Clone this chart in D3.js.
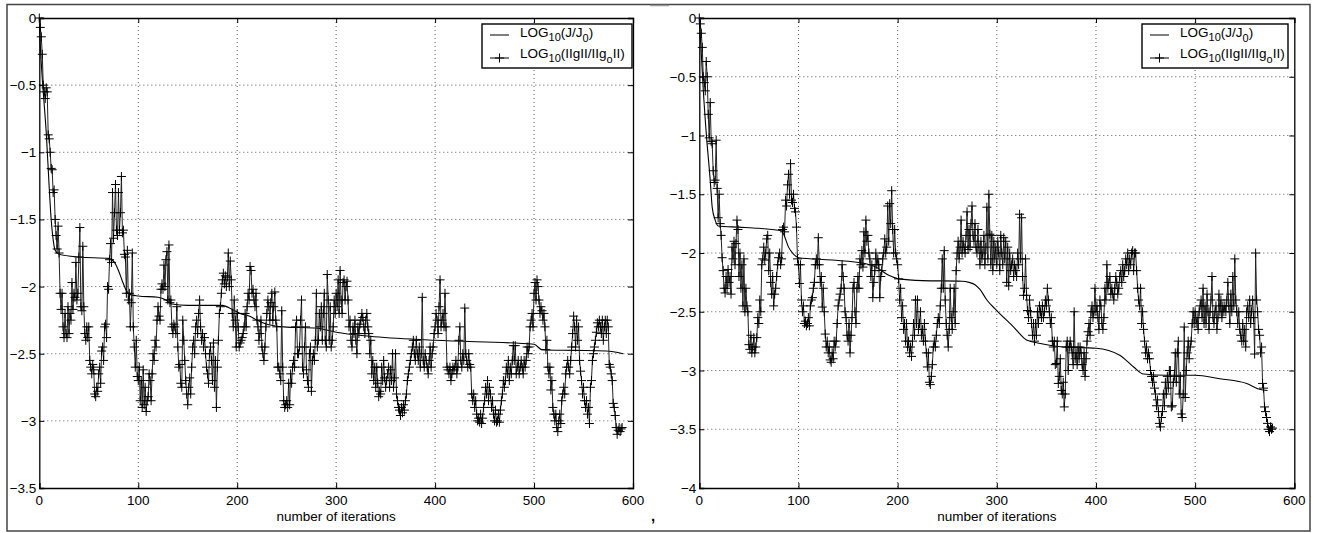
<!DOCTYPE html>
<html>
<head>
<meta charset="utf-8">
<script src="https://cdn.jsdelivr.net/npm/d3@7"></script>
<style>
  body { margin: 0; background: #fff; }
  svg { display: block; font-family: "Liberation Sans", Arial, sans-serif; }
</style>
</head>
<body>
<div id="viz"></div>
<script>
let w = 1319;
let h = 533;

// ---- data ----
// left run: log10(||g||/||g0||), one value per iteration from 0
let gradLeft = [
  0, -0.07, -0.14, -0.27, -0.5, -0.55, -0.6, -0.52, -0.55, -0.87,
  -0.9, -1.0, -1.12, -1.13, -1.3, -1.28, -1.5, -1.62, -1.72, -1.55,
  -1.75, -2.05, -2.17, -2.05, -2.3, -2.38, -2.2, -2.35, -2.38, -2.15,
  -2.35, -2.2, -2.25, -1.97, -2.17, -2.05, -2.08, -1.82, -2.1, -2.05,
  -1.78, -1.56, -2.15, -2.18, -1.7, -2.15, -2.35, -2.4, -2.3, -2.38,
  -2.3, -2.55, -2.6, -2.65, -2.58, -2.62, -2.8, -2.82, -2.75, -2.78,
  -2.65, -2.6, -2.72, -2.48, -2.45, -2.55, -2.3, -2.28, -2.38, -2.0,
  -2.02, -1.8, -1.68, -1.82, -1.3, -1.64, -1.45, -1.24, -1.58, -1.62,
  -1.3, -1.58, -1.45, -1.18, -1.6, -1.58, -1.76, -1.78, -2.05, -1.73,
  -2.1, -2.05, -2.3, -2.12, -1.75, -2.3, -2.45, -2.6, -2.4, -2.67,
  -2.7, -2.6, -2.85, -2.7, -2.9, -2.62, -2.88, -2.75, -2.93, -2.85,
  -2.82, -2.65, -2.7, -2.85, -2.65, -2.5, -2.55, -2.4, -2.45, -2.25,
  -2.15, -2.22, -2.25, -2.02, -1.98, -2.02, -1.84, -2.0, -1.8, -1.74,
  -2.1, -1.69, -2.12, -2.1, -2.3, -2.35, -2.28, -2.3, -2.35, -2.15,
  -2.45, -2.6, -2.58, -2.72, -2.75, -2.25, -2.4, -2.55, -2.7, -2.8,
  -2.88, -2.75, -2.68, -2.8, -2.6, -2.45, -2.4, -2.5, -2.3, -2.25,
  -2.35, -2.2, -2.1, -2.3, -2.4, -2.35, -2.45, -2.38, -2.5, -2.6,
  -2.65, -2.72, -2.5, -2.45, -2.55, -2.7, -2.42, -2.75, -2.55, -2.9,
  -2.6, -2.4, -2.2, -2.15, -2.05, -1.95, -1.9, -1.98, -1.92, -2.0,
  -1.93, -1.75, -2.0, -1.81, -1.95, -2.2, -2.3, -2.1, -2.25, -2.45,
  -2.2, -2.3, -2.45, -2.42, -2.4, -2.38, -2.35, -2.3, -2.2, -2.3,
  -2.15, -2.05, -2.1, -1.85, -1.88, -2.05, -2.02, -2.1, -2.15, -2.05,
  -2.25, -2.3, -2.4, -2.35, -2.25, -2.45, -2.5, -2.55, -2.45, -2.3,
  -2.2, -2.1, -2.15, -2.25, -2.12, -2.05, -2.25, -2.15, -2.04, -2.25,
  -2.3, -2.6, -2.6, -2.65, -2.7, -2.18, -2.6, -2.85, -2.9, -2.88,
  -2.85, -2.9, -2.72, -2.88, -2.65, -2.72, -2.6, -2.55, -2.6, -2.3,
  -2.25, -2.5, -2.5, -2.45, -2.25, -2.1, -2.6, -2.65, -2.45, -2.3,
  -2.62, -2.7, -2.75, -2.5, -2.45, -2.78, -2.55, -2.5, -2.55, -2.4,
  -2.05, -2.45, -2.4, -2.2, -2.3, -2.15, -2.4, -2.2, -2.05, -2.4,
  -2.45, -1.91, -2.1, -2.4, -2.15, -2.45, -2.4, -2.3, -2.1, -2.2,
  -2.05, -2.15, -1.95, -2.2, -1.88, -2.1, -2.2, -1.97, -1.95, -2.1,
  -2.0, -1.96, -2.1, -2.3, -2.25, -2.4, -2.45, -2.3, -2.35, -2.25,
  -2.4, -2.5, -2.3, -2.35, -2.28, -2.25, -2.2, -2.23, -2.3, -2.35,
  -2.25, -2.2, -2.3, -2.35, -2.5, -2.4, -2.65, -2.55, -2.7, -2.6,
  -2.75, -2.6, -2.72, -2.82, -2.78, -2.8, -2.6, -2.7, -2.55, -2.68,
  -2.75, -2.7, -2.65, -2.6, -2.75, -2.62, -2.7, -2.5, -2.75, -2.68,
  -2.5, -2.8, -2.85, -2.9, -2.92, -2.96, -2.9, -2.94, -2.88, -2.92,
  -2.85, -2.8, -2.7, -2.65, -2.6, -2.55, -2.5, -2.45, -2.4, -2.5,
  -2.55, -2.4, -2.5, -2.55, -2.45, -2.6, -2.5, -2.08, -2.55, -2.6,
  -2.5, -2.55, -2.6, -2.65, -2.55, -2.45, -2.6, -2.5, -2.45, -2.35,
  -2.3, -2.2, -2.25, -2.35, -2.15, -1.95, -2.3, -2.25, -2.2, -2.3,
  -2.05, -2.3, -2.6, -2.62, -2.65, -2.6, -2.7, -2.65, -2.6, -2.62,
  -2.6, -2.55, -2.65, -2.6, -2.4, -2.3, -2.55, -2.6, -2.5, -2.55,
  -2.16, -2.5, -2.55, -2.6, -2.5, -2.58, -2.6, -2.8, -2.85, -2.8,
  -2.9, -2.85, -2.95, -3.0, -2.98, -3.01, -2.95, -3.02, -2.98, -2.9,
  -2.85, -2.75, -2.8, -2.7, -2.85, -2.75, -2.8, -2.9, -2.85, -2.95,
  -3.0, -2.92, -3.01, -3.0, -2.95, -3.01, -2.92, -2.85, -2.8, -2.7,
  -2.75, -2.7, -2.6, -2.65, -2.55, -2.7, -2.6, -2.65, -2.55, -2.44,
  -2.55, -2.44, -2.65, -2.6, -2.55, -2.65, -2.6, -2.55, -2.6, -2.65,
  -2.55, -2.6, -2.55, -2.45, -2.5, -2.45, -2.3, -2.25, -2.2, -2.3,
  -2.05, -1.97, -2.1, -1.95, -2.0, -2.1, -2.2, -2.15, -2.18, -2.25,
  -2.2, -2.3, -2.47, -2.4, -2.6, -2.65, -2.6, -2.77, -2.7, -2.9,
  -2.95, -3.0, -2.95, -3.05, -3.08, -3.0, -2.95, -3.02, -2.85, -2.8,
  -2.75, -2.8, -2.65, -2.6, -2.55, -2.6, -2.65, -2.55, -2.45, -2.35,
  -2.22, -2.3, -2.45, -2.25, -2.4, -2.3, -2.55, -2.63, -2.7, -2.8,
  -2.75, -2.85, -2.9, -2.85, -2.95, -2.9, -3.02, -2.75, -2.7, -2.55,
  -2.5, -2.45, -2.4, -2.34, -2.27, -2.3, -2.25, -2.3, -2.35, -2.25,
  -2.4, -2.3, -2.25, -2.35, -2.25, -2.3, -2.58, -2.6, -2.65, -2.7,
  -2.87, -2.9, -2.96, -3.05, -3.1, -3.07, -3.05, -3.08, -3.06, -3.05
];

// left run: log10(J/J0), read at these iterations
let costLeftIter = [0, 1, 3, 5, 7, 10, 12, 14, 16, 20, 40, 70, 76, 80, 84, 88, 92, 100, 120, 128, 134, 150, 185, 195, 203, 212, 220, 230, 247, 281, 300, 334, 400, 500, 508, 540, 573, 590];
let costLeft = [0, -0.2, -0.45, -0.65, -0.85, -1.26, -1.5, -1.65, -1.73, -1.76, -1.78, -1.79, -1.82, -1.88, -1.96, -2.03, -2.06, -2.07, -2.08, -2.1, -2.13, -2.14, -2.14, -2.17, -2.2, -2.22, -2.25, -2.28, -2.3, -2.31, -2.34, -2.37, -2.4, -2.43, -2.47, -2.475, -2.48, -2.5];

// right run: log10(||g||/||g0||), one value per iteration from 0
let gradRight = [
  0, -0.05, -0.13, -0.25, -0.5, -0.55, -0.62, -0.37, -0.5, -0.82,
  -1.02, -0.72, -1.05, -1.07, -1.3, -1.4, -1.38, -1.04, -1.45, -1.7,
  -1.5, -1.75, -1.85, -2.04, -2.15, -2.3, -2.34, -2.2, -2.3, -2.14,
  -2.25, -2.2, -2.35, -1.95, -2.05, -1.9, -2.1, -1.92, -1.72, -1.8,
  -2.2, -2.0, -2.3, -2.1, -2.45, -2.05, -2.5, -2.3, -2.45, -2.5,
  -2.78, -2.82, -2.7, -2.85, -2.8, -2.72, -2.85, -2.8, -2.72, -2.55,
  -2.6, -2.4, -2.5, -2.1, -2.05, -1.95, -2.06, -2.0, -1.88, -1.85,
  -2.15, -2.0, -2.25, -2.35, -2.2, -2.45, -2.35, -2.3, -2.2, -2.1,
  -2.04, -2.0, -2.1, -2.05, -1.8, -1.78, -1.82, -1.55, -1.6, -1.42,
  -1.33, -1.5, -1.24, -1.55, -1.57, -1.5, -1.62, -1.65, -1.78, -2.05,
  -2.1, -2.26, -2.1, -2.4, -2.5, -2.45, -2.6, -2.58, -2.62, -2.6,
  -2.55, -2.62, -2.45, -2.4, -2.38, -2.3, -2.25, -2.1, -2.05, -2.1,
  -1.87, -2.1, -2.25, -2.2, -2.46, -2.3, -2.5, -2.69, -2.8, -2.75,
  -2.85, -2.8, -2.91, -2.93, -2.85, -2.9, -2.75, -2.8, -2.75, -2.6,
  -2.45, -2.4, -2.35, -2.3, -2.1, -2.2, -2.3, -2.5, -2.55, -2.7,
  -2.75, -2.6, -2.85, -2.7, -2.55, -2.3, -2.25, -2.5, -2.6, -2.3,
  -2.2, -2.3, -2.05, -2.1, -1.98, -2.12, -1.82, -2.0, -1.72, -1.9,
  -1.85, -2.0, -2.05, -2.2, -2.1, -2.38, -2.25, -2.15, -2.0, -2.1,
  -2.05, -2.1, -2.38, -2.2, -2.15, -2.05, -2.0, -1.88, -2.0, -1.95,
  -1.6, -1.9, -1.58, -1.75, -1.47, -1.8, -2.0, -1.8, -2.0, -2.05,
  -2.1, -2.22, -2.4, -2.3, -2.55, -2.45, -2.65, -2.6, -2.75, -2.6,
  -2.8, -2.75, -2.85, -2.8, -2.88, -2.75, -2.6, -2.7, -2.4, -2.6,
  -2.4, -2.65, -2.6, -2.5, -2.7, -2.65, -2.75, -2.6, -2.75, -2.85,
  -2.97, -2.85, -3.1, -3.12, -3.05, -2.95, -2.8, -2.75, -2.8, -2.7,
  -2.6, -2.55, -2.6, -2.45, -2.3, -2.05, -2.3, -1.98, -2.4, -2.6,
  -2.7, -2.8, -2.65, -2.3, -2.55, -2.65, -2.5, -2.3, -2.6, -2.15,
  -2.0, -1.9, -2.05, -1.95, -1.72, -2.0, -1.9, -1.95, -2.0, -1.85,
  -1.65, -1.97, -1.8, -1.95, -1.75, -1.6, -1.85, -1.9, -1.75, -1.95,
  -2.0, -1.8, -1.95, -2.1, -1.9, -2.05, -2.0, -1.85, -2.1, -1.95,
  -1.61, -2.05, -1.5, -1.84, -2.1, -1.85, -2.15, -1.9, -2.05, -1.95,
  -2.1, -1.9, -2.0, -2.15, -1.85, -2.0, -2.1, -1.87, -2.05, -1.9,
  -2.25, -1.95, -2.28, -2.0, -2.15, -2.1, -2.05, -2.2, -2.1, -2.15,
  -2.2, -2.0, -2.1, -1.67, -2.05, -1.7, -2.2, -2.36, -2.3, -2.05,
  -2.36, -2.49, -2.55, -2.4, -2.5, -2.6, -2.7, -2.6, -2.75, -2.6,
  -2.7, -2.5, -2.6, -2.45, -2.5, -2.55, -2.45, -2.55, -2.5, -2.4,
  -2.45, -2.3, -2.4, -2.5, -2.6, -2.55, -2.75, -2.8, -2.75, -2.95,
  -2.94, -2.75, -3.11, -3.05, -2.9, -3.17, -3.2, -3.1, -3.31, -3.2,
  -2.8, -2.75, -3.0, -2.8, -2.75, -2.8, -2.85, -2.95, -2.5, -2.9,
  -2.85, -2.95, -2.8, -2.9, -2.8, -2.85, -2.95, -3.0, -2.85, -3.05,
  -2.9, -2.75, -2.67, -2.6, -2.7, -2.5, -2.45, -2.55, -2.5, -2.3,
  -2.5, -2.45, -2.55, -2.65, -2.4, -2.45, -2.6, -2.65, -2.55, -2.3,
  -2.4, -2.1, -2.3, -2.25, -2.2, -2.35, -2.3, -2.35, -2.4, -2.3,
  -2.2, -2.25, -2.35, -2.3, -2.2, -2.15, -2.25, -2.1, -2.2, -2.15,
  -2.05, -2.1, -2.0, -2.15, -2.05, -2.1, -2.0, -1.98, -2.15, -2.0,
  -2.0, -2.15, -2.3, -2.4, -2.45, -2.3, -2.6, -2.5, -2.65, -2.75,
  -2.85, -2.8, -2.9, -2.85, -2.9, -3.0, -3.05, -3.1, -3.05, -3.15,
  -3.2, -3.3, -3.25, -3.35, -3.45, -3.48, -3.4, -3.35, -3.2, -3.3,
  -3.1, -3.2, -3.05, -3.15, -3.0, -3.0, -3.31, -3.3, -3.1, -3.05,
  -2.85, -3.1, -2.85, -2.75, -3.2, -3.05, -3.37, -3.4, -3.2, -2.63,
  -3.23, -3.0, -2.85, -2.75, -2.9, -2.8, -2.75, -2.6, -2.5, -2.6,
  -2.5, -2.6, -2.55, -2.65, -2.5, -2.45, -2.4, -2.55, -2.3, -2.6,
  -2.45, -2.6, -2.35, -2.5, -2.65, -2.5, -2.4, -2.2, -2.55, -2.6,
  -2.5, -2.45, -2.65, -2.55, -2.35, -2.5, -2.4, -2.55, -2.45, -2.5,
  -2.45, -2.5, -2.4, -2.25, -2.45, -2.6, -2.35, -2.5, -2.2, -2.45,
  -2.05, -2.4, -2.5, -2.6, -2.5, -2.65, -2.7, -2.75, -2.6, -2.75,
  -2.65, -2.8, -2.5, -2.45, -2.55, -2.4, -2.6, -2.5, -2.4, -2.55,
  -2.86, -2.0, -2.4, -2.5, -2.65, -2.7, -2.85, -2.8, -3.11, -3.15,
  -3.31, -3.35, -3.4, -3.45, -3.5, -3.52, -3.48, -3.5, -3.49
];

// right run: log10(J/J0), read at these iterations
let costRightIter = [0, 2, 4, 7, 11, 13, 16, 19, 40, 60, 83, 86, 90, 95, 100, 134, 167, 177, 191, 201, 225, 265, 272, 278, 283, 290, 300, 317, 330, 344, 367, 400, 424, 438, 448, 471, 500, 525, 552, 565, 573];
let costRight = [0, -0.3, -0.61, -0.98, -1.38, -1.61, -1.72, -1.77, -1.78, -1.79, -1.81, -1.86, -1.95, -2.01, -2.04, -2.06, -2.09, -2.115, -2.19, -2.22, -2.235, -2.24, -2.25, -2.27, -2.31, -2.4, -2.49, -2.63, -2.74, -2.77, -2.8, -2.81, -2.87, -2.97, -3.03, -3.04, -3.04, -3.07, -3.11, -3.16, -3.17];

let xTicks = [0, 100, 200, 300, 400, 500, 600];
let yTicksLeft = [0, -0.5, -1, -1.5, -2, -2.5, -3, -3.5];
let yTicksRight = [0, -0.5, -1, -1.5, -2, -2.5, -3, -3.5, -4];

let fontSize = "13.5px";

let svg = d3.select("#viz").append("svg")
  .attr("width", w)
  .attr("height", h);

// outer frame around both figures
svg.append("rect")
  .attr("x", 7).attr("y", 4.5)
  .attr("width", 1303).attr("height", 526.5)
  .attr("fill", "none")
  .attr("stroke", "#444")
  .attr("stroke-width", 1.5);
svg.append("line")
  .attr("x1", 650).attr("x2", 669).attr("y1", 5.5).attr("y2", 5.5)
  .attr("stroke", "#999").attr("stroke-width", 1.5);
svg.append("text")
  .attr("x", 651).attr("y", 521)
  .attr("font-size", "15px")
  .attr("font-weight", "bold")
  .text(",");

function fmt(v) {
  return String(v).replace("-", "\u2212");
}

function drawPanel(opts) {
  let x = d3.scaleLinear().domain([0, 600]).range([opts.left, opts.right]);
  let y = d3.scaleLinear().domain([opts.yMin, 0]).range([488, 18]);
  let g = svg.append("g");

  // dotted grid
  g.selectAll(".vgrid").data(xTicks.slice(1, -1)).enter()
    .append("line")
      .attr("x1", d => x(d)).attr("x2", d => x(d))
      .attr("y1", 18).attr("y2", 488)
      .attr("stroke", "#333").attr("stroke-width", 0.8)
      .attr("stroke-dasharray", "1,3");
  g.selectAll(".hgrid").data(opts.yTicks.slice(1, -1)).enter()
    .append("line")
      .attr("x1", opts.left).attr("x2", opts.right)
      .attr("y1", d => y(d)).attr("y2", d => y(d))
      .attr("stroke", "#333").attr("stroke-width", 0.8)
      .attr("stroke-dasharray", "1,3");

  // axes (ticks inward, matlab box)
  let tickLen = 5;
  let xAxis = g.append("g").attr("transform", "translate(0,488)")
    .call(d3.axisTop(x).tickValues(xTicks).tickSize(tickLen).tickFormat(""));
  let xAxisTop = g.append("g").attr("transform", "translate(0,18)")
    .call(d3.axisBottom(x).tickValues(xTicks).tickSize(tickLen).tickFormat(""));
  let yAxis = g.append("g").attr("transform", "translate(" + opts.left + ",0)")
    .call(d3.axisRight(y).tickValues(opts.yTicks).tickSize(tickLen).tickFormat(""));
  let yAxisR = g.append("g").attr("transform", "translate(" + opts.right + ",0)")
    .call(d3.axisLeft(y).tickValues(opts.yTicks).tickSize(tickLen).tickFormat(""));
  [xAxis, xAxisTop, yAxis, yAxisR].forEach(a => {
    a.select(".domain").attr("stroke", "#000").attr("stroke-width", 1.3);
    a.selectAll(".tick line").attr("stroke", "#000");
  });

  // tick labels
  g.selectAll(".xlab").data(xTicks).enter()
    .append("text")
      .attr("x", d => x(d)).attr("y", 505)
      .attr("text-anchor", "middle")
      .attr("font-size", fontSize)
      .text(d => d);
  g.selectAll(".ylab").data(opts.yTicks).enter()
    .append("text")
      .attr("x", opts.left - 3).attr("y", d => y(d) + 5)
      .attr("text-anchor", "end")
      .attr("font-size", fontSize)
      .text(d => fmt(d));

  g.append("text")
    .attr("x", (opts.left + opts.right) / 2).attr("y", 521)
    .attr("text-anchor", "middle")
    .attr("font-size", fontSize)
    .text("number of iterations");

  // cost curve
  let costPts = opts.costIter.map((it, i) => [it, opts.cost[i]]);
  let costLine = d3.line()
    .x(d => x(d[0]))
    .y(d => y(d[1]))
    .curve(d3.curveMonotoneX);
  g.append("path")
    .attr("d", costLine(costPts))
    .attr("fill", "none")
    .attr("stroke", "#000")
    .attr("stroke-width", 1.1);

  // gradient norm with + markers
  let gradLine = d3.line()
    .x((d, i) => x(i))
    .y(d => y(d));
  g.append("path")
    .attr("d", gradLine(opts.grad))
    .attr("fill", "none")
    .attr("stroke", "#222")
    .attr("stroke-width", 1);
  g.selectAll(".mark").data(opts.grad).enter()
    .append("path")
      .attr("d", (d, i) => {
        let cx = x(i), cy = y(d);
        return "M" + (cx - 4.5) + "," + cy + "H" + (cx + 4.5) + "M" + cx + "," + (cy - 4.5) + "V" + (cy + 4.5);
      })
      .attr("stroke", "#000")
      .attr("stroke-width", 1);

  // legend
  let lx = opts.legendX, ly = 24, lw = opts.legendW, lh = 44;
  let leg = g.append("g");
  leg.append("rect")
    .attr("x", lx).attr("y", ly).attr("width", lw).attr("height", lh)
    .attr("fill", "#fff").attr("stroke", "#000").attr("stroke-width", 1.4);
  leg.append("line")
    .attr("x1", lx + 8).attr("x2", lx + 27).attr("y1", ly + 11).attr("y2", ly + 11)
    .attr("stroke", "#000");
  leg.append("line")
    .attr("x1", lx + 8).attr("x2", lx + 27).attr("y1", ly + 34).attr("y2", ly + 34)
    .attr("stroke", "#000");
  leg.append("path")
    .attr("d", "M" + (lx + 13) + "," + (ly + 34) + "h9M" + (lx + 17.5) + "," + (ly + 29.5) + "v9")
    .attr("stroke", "#000");

  function label(yy, parts) {
    let t = leg.append("text")
      .attr("x", lx + 38).attr("y", yy)
      .attr("font-size", fontSize);
    parts.forEach(p => {
      t.append("tspan")
        .attr("dy", p[1])
        .attr("font-size", p[2] ? "11px" : fontSize)
        .text(p[0]);
    });
  }
  label(ly + 13, [["LOG", 0], ["10", 4, true], ["(J/J", -4], ["0", 5, true], [")", -5]]);
  label(ly + 34, [["LOG", 0], ["10", 4, true], ["(IIgII/IIg", -4], ["o", 5, true], ["II)", -5]]);
}

drawPanel({
  left: 39.3, right: 633, yMin: -3.5, yTicks: yTicksLeft,
  grad: gradLeft, costIter: costLeftIter, cost: costLeft,
  legendX: 482, legendW: 150
});
drawPanel({
  left: 699.3, right: 1294.3, yMin: -4, yTicks: yTicksRight,
  grad: gradRight, costIter: costRightIter, cost: costRight,
  legendX: 1142, legendW: 146
});
</script>
</body>
</html>
